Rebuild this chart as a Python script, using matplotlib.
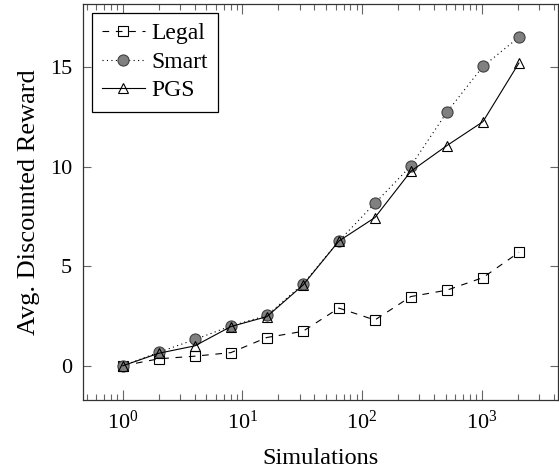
import matplotlib
matplotlib.use("Agg")
import matplotlib.pyplot as plt
from matplotlib.ticker import LogLocator, NullFormatter, FixedLocator

# values
simulations = [1, 2, 4, 8, 16, 32, 64, 128, 256, 512, 1024, 2048]
legal = [0.0, 0.35, 0.48, 0.66, 1.42, 1.73, 2.9, 2.3, 3.48, 3.8, 4.43, 5.7]
smart = [0.0, 0.68, 1.32, 2.0, 2.53, 4.1, 6.27, 8.17, 10.05, 12.75, 15.05, 16.52]
pgs = [0.0, 0.63, 1.0, 1.97, 2.47, 4.05, 6.27, 7.45, 9.78, 11.07, 12.27, 15.22]
y_ticks = [0, 5, 10, 15]

plt.rcParams["font.family"] = ["Liberation Serif", "DejaVu Serif"]
plt.rcParams["mathtext.fontset"] = "stix"
plt.rcParams["font.size"] = 16

fig = plt.figure(figsize=(5.59, 4.75), dpi=100)
ax = fig.add_axes([0.149, 0.158, 0.850, 0.834])

lw = 0.8
ax.plot(simulations, legal, color="black", lw=lw, linestyle=(0, (6, 6)),
        marker="s", markersize=7.5, markerfacecolor="none",
        markeredgecolor="black", markeredgewidth=0.8, label="Legal")
ax.plot(simulations, smart, color="black", lw=lw, linestyle=(0, (1, 3)),
        marker="o", markersize=8, markerfacecolor="0.5",
        markeredgecolor="0.25", markeredgewidth=0.8, label="Smart")
ax.plot(simulations, pgs, color="black", lw=lw, linestyle="-",
        marker="^", markersize=7, markerfacecolor="none",
        markeredgecolor="black", markeredgewidth=0.8, label="PGS")

ax.set_xscale("log")
ax.set_xlim(10 ** -0.331, 10 ** 3.642)
ax.set_ylim(-1.72, 18.2)

ax.xaxis.set_major_locator(LogLocator(base=10, numticks=10))
ax.xaxis.set_minor_locator(LogLocator(base=10, subs=range(2, 10), numticks=20))
ax.xaxis.set_minor_formatter(NullFormatter())
ax.yaxis.set_major_locator(FixedLocator(y_ticks))

ax.tick_params(which="both", direction="in", top=True, right=True,
               color="0.4", width=0.8, labelsize=16)
ax.tick_params(which="major", length=7, pad=8)
ax.tick_params(which="minor", length=4)
ax.tick_params(axis="y", which="major", length=6)

for side in ax.spines.values():
    side.set_linewidth(0.9)
    side.set_color("0.2")

ax.set_xlabel("Simulations", fontsize=17.5, labelpad=10)
ax.set_ylabel("Avg. Discounted Reward", fontsize=19, labelpad=7)

leg = ax.legend(loc="upper left", fancybox=False, framealpha=1,
                edgecolor="black", borderaxespad=0.37, labelspacing=0.3,
                handlelength=1.8, handletextpad=0.3, borderpad=0.43,
                fontsize=17)
leg.get_frame().set_linewidth(0.9)

fig.savefig("out.png", dpi=100)
